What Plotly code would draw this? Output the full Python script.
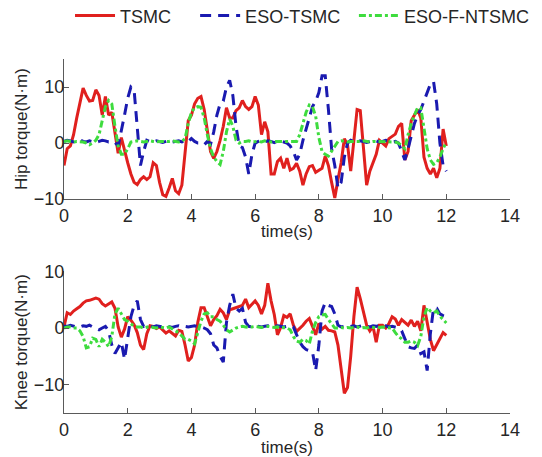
import plotly.graph_objects as go

# time grid (s)
time = [round(i * 0.1, 1) for i in range(121)]

# ---- Hip torque (N·m) ----
hip_tsmc = [
    -4, -1, -0.5, 1.5, 4.5, 7.5, 9.8, 8.5, 7.5, 7.6,
    9.5, 8.5, 5, 8.3, 5, 5.5, 1.5, -1.8, 1, -1.5,
    -3.5, -5.5, -7, -7.4, -6.5, -6, -6.5, -6, -3.5, -4,
    -7, -9.2, -9.5, -8, -6.3, -8.5, -9, -7.5, -2, 4,
    5, 7, 8, 8.3, 6, 2, -1.5, -2.7, -1.5, 0.5,
    3, 6.3, 4.5, 4.5, 5.8, 6.3, 7.6, 6.5, 6, 6.5,
    8.3, 6.8, 1.5, 3.8, 2, -5.5, -5.5, -3.3, -2.7, -4.5,
    -2.7, -4.8, -4.5, -3.6, -5, -7.5, -5.5, -4.2, -4, -5.2,
    -4.8, -4.5, -2.3, -4, -7, -9.8, -6.5, -3.5, 0.8, -0.3,
    -5, 0, 6, 5.8, -1.5, -7.5, -5, -3.5, -2, 0.5,
    0, -0.5, 0.8, 1.2, 1.6, 3, 3.5, -3, -1.5, 4,
    5, 6, 4.5, -2.5, -4.5, -5.5, -4.5, -6.2, -4.5, 2.5,
    -0.5]

hip_eso_tsmc = [
    0.3, 0.5, 0.4, 0.2, 0.5, 0.6, 0.3, 0.2, 0.4, 0.3,
    0.1, 0.3, 0.5, 0.4, 0.2, 0.3, 0.1, -0.5, 2, 5,
    8, 10, 9.5, 3, -4, -1.5, 0.5, 0.3, 0.2, 0.4,
    0.3, 0.1, 0.3, 0.5, 0.2, 0.3, 0.4, 0.2, 0.5, 0.3,
    0.8, 0.3, 0, 0, -0.3, 0.3, -0.2, 2, 5, 7,
    7.5, 10, 11.2, 8.5, 3, -0.5, -0.8, -2.5, -5.5, -2,
    0, 0.3, 0.5, 0.2, 0.4, 0.3, 0.1, 0.3, 0.4, 0.2,
    0, -0.5, -1.5, -3, -2, 0.5, 2.5, 4.5, 6.5, 7.5,
    9, 12, 12, 6, -1, -4, -8, -7, -2.5, 0,
    0.5, 0.3, 0.2, 0.4, 0.3, 0.1, 0.3, 0.5, 0.4, 0.2,
    0.3, 0.5, 0.4, 0.2, 0.3, 0, -1.5, -3, -1, 1.5,
    3.5, 5, 6, 7.5, 9, 10.5, 11, 7, 0, -4,
    -5]

hip_eso_f_ntsmc = [
    0.3, 0.4, 0.3, 0.2, 0.3, 0.3, 0.2, 0, -0.3, 0,
    0.5, 1.5, 4, 6.5, 7.6, 7, 3, -0.5, -2, -2,
    -1, 0.2, 0.3, 0.4, 0.3, 0.2, 0.3, 0.4, 0.3, 0.2,
    0.3, 0.3, 0.2, 0.3, 0.4, 0.3, 0.2, 0.3, 0.8, 3.5,
    5.5, 6.3, 6.5, 6.4, 4.5, 1.5, -1, -2.5, -3.3, -3.8,
    -1.5, 2, 4.3, 3, 0.5, 0, 0.3, 0.3, 0.4, 0.2,
    0.3, 0.3, 0.2, 0.4, 0.3, 0.2, 0.3, 0.3, 0.2, 0.3,
    0.3, 0.2, 0.2, 0.3, 1.5, 3.5, 5.5, 6.8, 6.5, 4.8,
    1, -1.5, -2, -2.3, -1.5, -0.5, 0.3, 0.4, 0.3, 0.2,
    0.3, 0.3, 0.2, 0.3, 0.4, 0.3, 0.2, 0.3, 0.3, 0.2,
    0.3, 0.2, 0.3, 0.3, 0.2, 0, -0.5, -1, 1.5, 3.5,
    5, 6.3, 6.3, 3, -1, -3, -3.8, -3.5, -2.5, -1,
    0.2]

# ---- Knee torque (N·m) ----
knee_tsmc = [
    0.2, 2.7, 2.4, 3, 3.4, 3.8, 4.4, 4.8, 4.9, 5.1,
    5.3, 5.1, 4.3, 3.9, 4.2, 4.6, 3.5, 0.2, -1.6, -0.2,
    2, 1.4, 0.6, -0.8, -3, -3.8, -1, 0.4, 0.3, -0.1,
    0.2, -0.4, -0.9, -0.5, -1, -1.4, -0.4, -0.6, -3, -5.8,
    -5.2, -3, 1, 3.6, 3.6, 2, 0.4, 1.5, 2.2, 3.3,
    2.7, 1.5, 3.2, 3.4, 3.6, 3.7, 4, 5.1, 3.6, 4.2,
    4.8, 4, 2.5, 4, 7.9, 4.8, 2.4, -1.2, 0.1, 2.2,
    1.9, 2.5, 0.5, -0.6, -0.1, 0.5, 1.2, 1.7, 0.3, -1.2,
    0.8, -0.2, 0.3, -0.4, -0.5, -0.7, -3, -7.5, -11.5, -10.5,
    -5, 2, 7.2, 5.2, 2.8, 0.5, -0.5, 0.3, -2.5, 0.5,
    0.5, 0, 0.8, 2, 1.6, 0.5, 1.5, 1, 0.5, 1.4,
    0.3, 1.2, -0.5, 4, 1, -2, -4, -2.9, -1.8, -0.8,
    -1.3]

knee_eso_tsmc = [
    0.3, 0.3, 0.5, 0.3, 0.2, 0.2, 0.4, 0.3, 0.5, 0.2,
    0, -0.3, 0, 0.3, -0.5, -3, -4.5, -3.5, -2.5, -5.5,
    -2, 2, 4, 4.8, 1.5, 0.3, 0.5, 0.3, 0.2, 0.4,
    0.3, 0.2, 0.4, 0.3, 0.1, 0.3, 0.4, 0.2, 0.3, 0.2,
    0.3, 0.4, 0.2, 0.2, 0, -0.3, -1, -3, -3.5, -5,
    -6, 1, 4, 6, 3.5, 3, 3.5, 1, 0.3, 0.2,
    0.4, 0.3, 0.2, 0.3, 0.4, 0.2, 0.3, 0.4, 0.3, 0.2,
    0.3, 0.4, 0.2, -1, -2.5, -3.3, -3.8, -4, -4.2, -7.5,
    -3, 3, 4.5, 4, 3.8, 2.5, 0.5, 0.2, 0.3, 0.2,
    0.3, 0.4, 0.2, 0.3, 0.5, 0.3, 0.2, 0.4, 0.3, 0.5,
    0.3, 0.4, 0.2, 0.3, 0.2, 0, -0.5, -2, -3.3, -3.5,
    -3.6, -3, -4.5, -4.2, -7.5, -1, 3.5, 3.5, 2.5, 2.2,
    2]

knee_eso_f_ntsmc = [
    0, 0.2, 0.2, 0, 0, -0.5, -1.5, -3.5, -3.3, -1.8,
    -2, -3.3, -2, -2.5, -3.3, -1.5, 2.5, 3.5, 2.5, 1.5,
    1.2, 0.8, 0.3, 0.2, 0.2, 0, 0.2, 0.3, 0.1, 0,
    0.2, 0.1, 0, 0.2, -0.2, -0.5, -0.8, -1.5, -2, -2,
    -2.3, -2.8, -1, 1.2, 2.5, 2.7, 2, 2, 1.5, 1.2,
    0.5, -0.3, -0.7, -0.3, 0, 0.2, 0.3, 0.2, 0.1, 0.2,
    0.3, 0.2, 0.1, 0.2, 0.3, 0.2, 0.1, 0.2, 0, 0.1,
    0, -0.3, -1.5, -2.3, -2.5, -2, -2.2, -2.8, -0.5, 1,
    2, 2.3, 2.4, 1.5, 0.8, 0, 0, 0.1, 0, 0.1,
    0, 0.1, 0.2, 0, 0.1, 0, 0.2, 0.1, 0, 0.1,
    0.2, 0.1, 0, 0, -0.8, -1.5, -1.9, -2.5, -2.5, -2.3,
    -2.5, -3.1, -1.5, 2, 3.6, 3, 2.7, 3, 2.1, 1.5,
    0.9]

series_names = ["TSMC", "ESO-TSMC", "ESO-F-NTSMC"]
colors = ["#e0201e", "#1a1ab0", "#3edc3e"]
dashes = ["solid", "11px,7px", "7px,3px,3px,3px"]
legend_ids = ["legend", "legend2", "legend3"]
legend_x = [0.0135, 0.294, 0.650]

x_ticks = [0, 2, 4, 6, 8, 10, 12, 14]
y_ticks = [-10, 0, 10]

fig = go.Figure()
hip = [hip_tsmc, hip_eso_tsmc, hip_eso_f_ntsmc]
knee = [knee_tsmc, knee_eso_tsmc, knee_eso_f_ntsmc]
for i in range(3):
    fig.add_trace(go.Scatter(x=time, y=hip[i], mode="lines", name=series_names[i],
                             legend=legend_ids[i],
                             line=dict(color=colors[i], width=3, dash=dashes[i]),
                             xaxis="x", yaxis="y"))
for i in range(3):
    fig.add_trace(go.Scatter(x=time, y=knee[i], mode="lines", name=series_names[i],
                             showlegend=False,
                             line=dict(color=colors[i], width=3, dash=dashes[i]),
                             xaxis="x2", yaxis="y2"))

axis_common = dict(showline=True, linecolor="#5a5a5a", linewidth=1, ticks="inside",
                   ticklen=5, tickcolor="#5a5a5a", showgrid=False, zeroline=False,
                   tickfont=dict(size=18, color="#262626"), mirror=False, automargin=False)

legend_style = dict(orientation="h", xref="paper", y=1.122, yref="paper",
                    yanchor="middle", xanchor="left", font=dict(size=18),
                    bgcolor="rgba(0,0,0,0)", itemwidth=40)

fig.update_layout(
    width=534, height=449,
    paper_bgcolor="white", plot_bgcolor="white",
    margin=dict(l=56, r=32, t=51, b=44, autoexpand=False),
    font=dict(family="Liberation Sans, Arial, sans-serif", color="#262626"),
    showlegend=True,
    legend=dict(x=legend_x[0], **legend_style),
    legend2=dict(x=legend_x[1], **legend_style),
    legend3=dict(x=legend_x[2], **legend_style),
    xaxis=dict(domain=[0, 1], range=[0, 14], tickvals=x_ticks, anchor="y",
               title=dict(text="time(s)", font=dict(size=17), standoff=0), **axis_common),
    yaxis=dict(domain=[0.604, 1], range=[-10, 15], tickvals=y_ticks, anchor="x",
               ticklabelstandoff=-5,
               title=dict(text="Hip torque(N·m)", font=dict(size=17), standoff=1), **axis_common),
    xaxis2=dict(domain=[0, 1], range=[0, 14], tickvals=x_ticks, anchor="y2",
                title=dict(text="time(s)", font=dict(size=17), standoff=8), **axis_common),
    yaxis2=dict(domain=[0, 0.4], range=[-15, 10], tickvals=y_ticks, anchor="x2",
                ticklabelstandoff=-5,
                title=dict(text="Knee torque(N·m)", font=dict(size=17), standoff=1), **axis_common),
)

fig.write_html("out.html")
